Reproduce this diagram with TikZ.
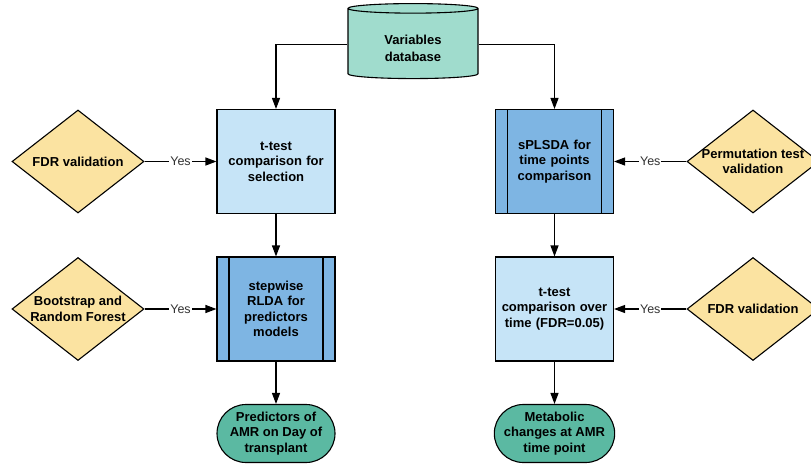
\documentclass[tikz,border=0pt]{standalone}
\usepackage{fontspec}
\setmainfont{Liberation Sans}
\usepackage{tikz}
\usetikzlibrary{arrows.meta, shapes.geometric, shapes.misc, calc}
\definecolor{figDB}{RGB}{160,220,205}
\definecolor{figLB}{RGB}{198,228,247}
\definecolor{figMB}{RGB}{126,181,227}
\definecolor{figY}{RGB}{251,227,161}
\definecolor{figT}{RGB}{91,185,162}
\tikzset{
  lbl/.style={align=center, font=\bfseries\fontsize{13}{15.5}\selectfont},
  flowbox/.style={lbl, draw, line width=1.1pt, minimum width=118pt, minimum height=104pt, text width=110pt, inner sep=0pt},
  testbox/.style={flowbox, fill=figLB},
  procbox/.style={flowbox, fill=figMB, path picture={
    \draw[line width=1.1pt] ([xshift=12pt]path picture bounding box.north west) -- ([xshift=12pt]path picture bounding box.south west);
    \draw[line width=1.1pt] ([xshift=-12pt]path picture bounding box.north east) -- ([xshift=-12pt]path picture bounding box.south east);}},
  decision/.style={draw, diamond, line width=1.1pt, fill=figY, minimum width=132pt, minimum height=103pt, inner sep=0pt},
  endbox/.style={lbl, draw, rounded rectangle, line width=1.1pt, fill=figT, minimum width=118pt, minimum height=58pt, inner sep=0pt},
  yes/.style={fill=white, inner sep=1pt, text=black!80, font=\fontsize{12.5}{15}\selectfont},
  arr/.style={-{Triangle[length=11pt,width=8pt]}, line width=1.1pt}
}
\begin{document}
\begin{tikzpicture}[x=1pt, y=-1pt]
\useasboundingbox (0,0) rectangle (811,466);
% ===== database on top =====
\node[lbl, draw, cylinder, shape border rotate=90, aspect=0.15, line width=1.1pt, fill=figDB,
  minimum height=75pt, minimum width=130pt] (db) at (413,44.5) {\phantom{Variables}\\\phantom{database}};
\node[lbl, font=\bfseries\fontsize{13}{17}\selectfont] at ([yshift=-4pt]db.center) {Variables\\database};
% ===== left column: predictors on day of transplant =====
\node[testbox] (ttA) at (276,161.5) {t-test\\comparison for\\selection};
\node[procbox] (rlda) at (276,309) {stepwise\\RLDA for\\predictors\\models};
\node[endbox] (pred) at (276,433.5) {Predictors of\\AMR on Day of\\transplant};
\node[decision] (fdrA) at (78,161.5) {};
\node[lbl] at (fdrA) {FDR validation};
\node[decision] (boot) at (78,309) {};
\node[lbl] at (boot) {Bootstrap and\\Random Forest};
% ===== right column: changes over time =====
\node[procbox] (spls) at (554.5,161.5) {sPLSDA for\\time points\\comparison};
\node[testbox] (ttB) at (554.5,309) {t-test\\comparison over\\time (FDR=0.05)};
\node[endbox] (metab) at (554.5,433.5) {Metabolic\\changes at AMR\\time point};
\node[decision] (perm) at (753,161.5) {};
\node[lbl] at (perm) {Permutation test\\validation};
\node[decision] (fdrB) at (753,309) {};
\node[lbl] at (fdrB) {FDR validation};
% ===== connectors =====
\draw[arr] (db.west) -| (ttA.north);
\draw[arr] (db.east) -| (spls.north);
\foreach \a/\b in {ttA/rlda, rlda/pred, spls/ttB, ttB/metab}
  \draw[arr] (\a.south) -- (\b.north);
\foreach \a/\b in {fdrA/ttA, boot/rlda}
  \draw[arr] (\a.east) -- node[yes]{Yes} (\b.west);
\foreach \a/\b in {perm/spls, fdrB/ttB}
  \draw[arr] (\a.west) -- node[yes]{Yes} (\b.east);
\end{tikzpicture}
\end{document}
